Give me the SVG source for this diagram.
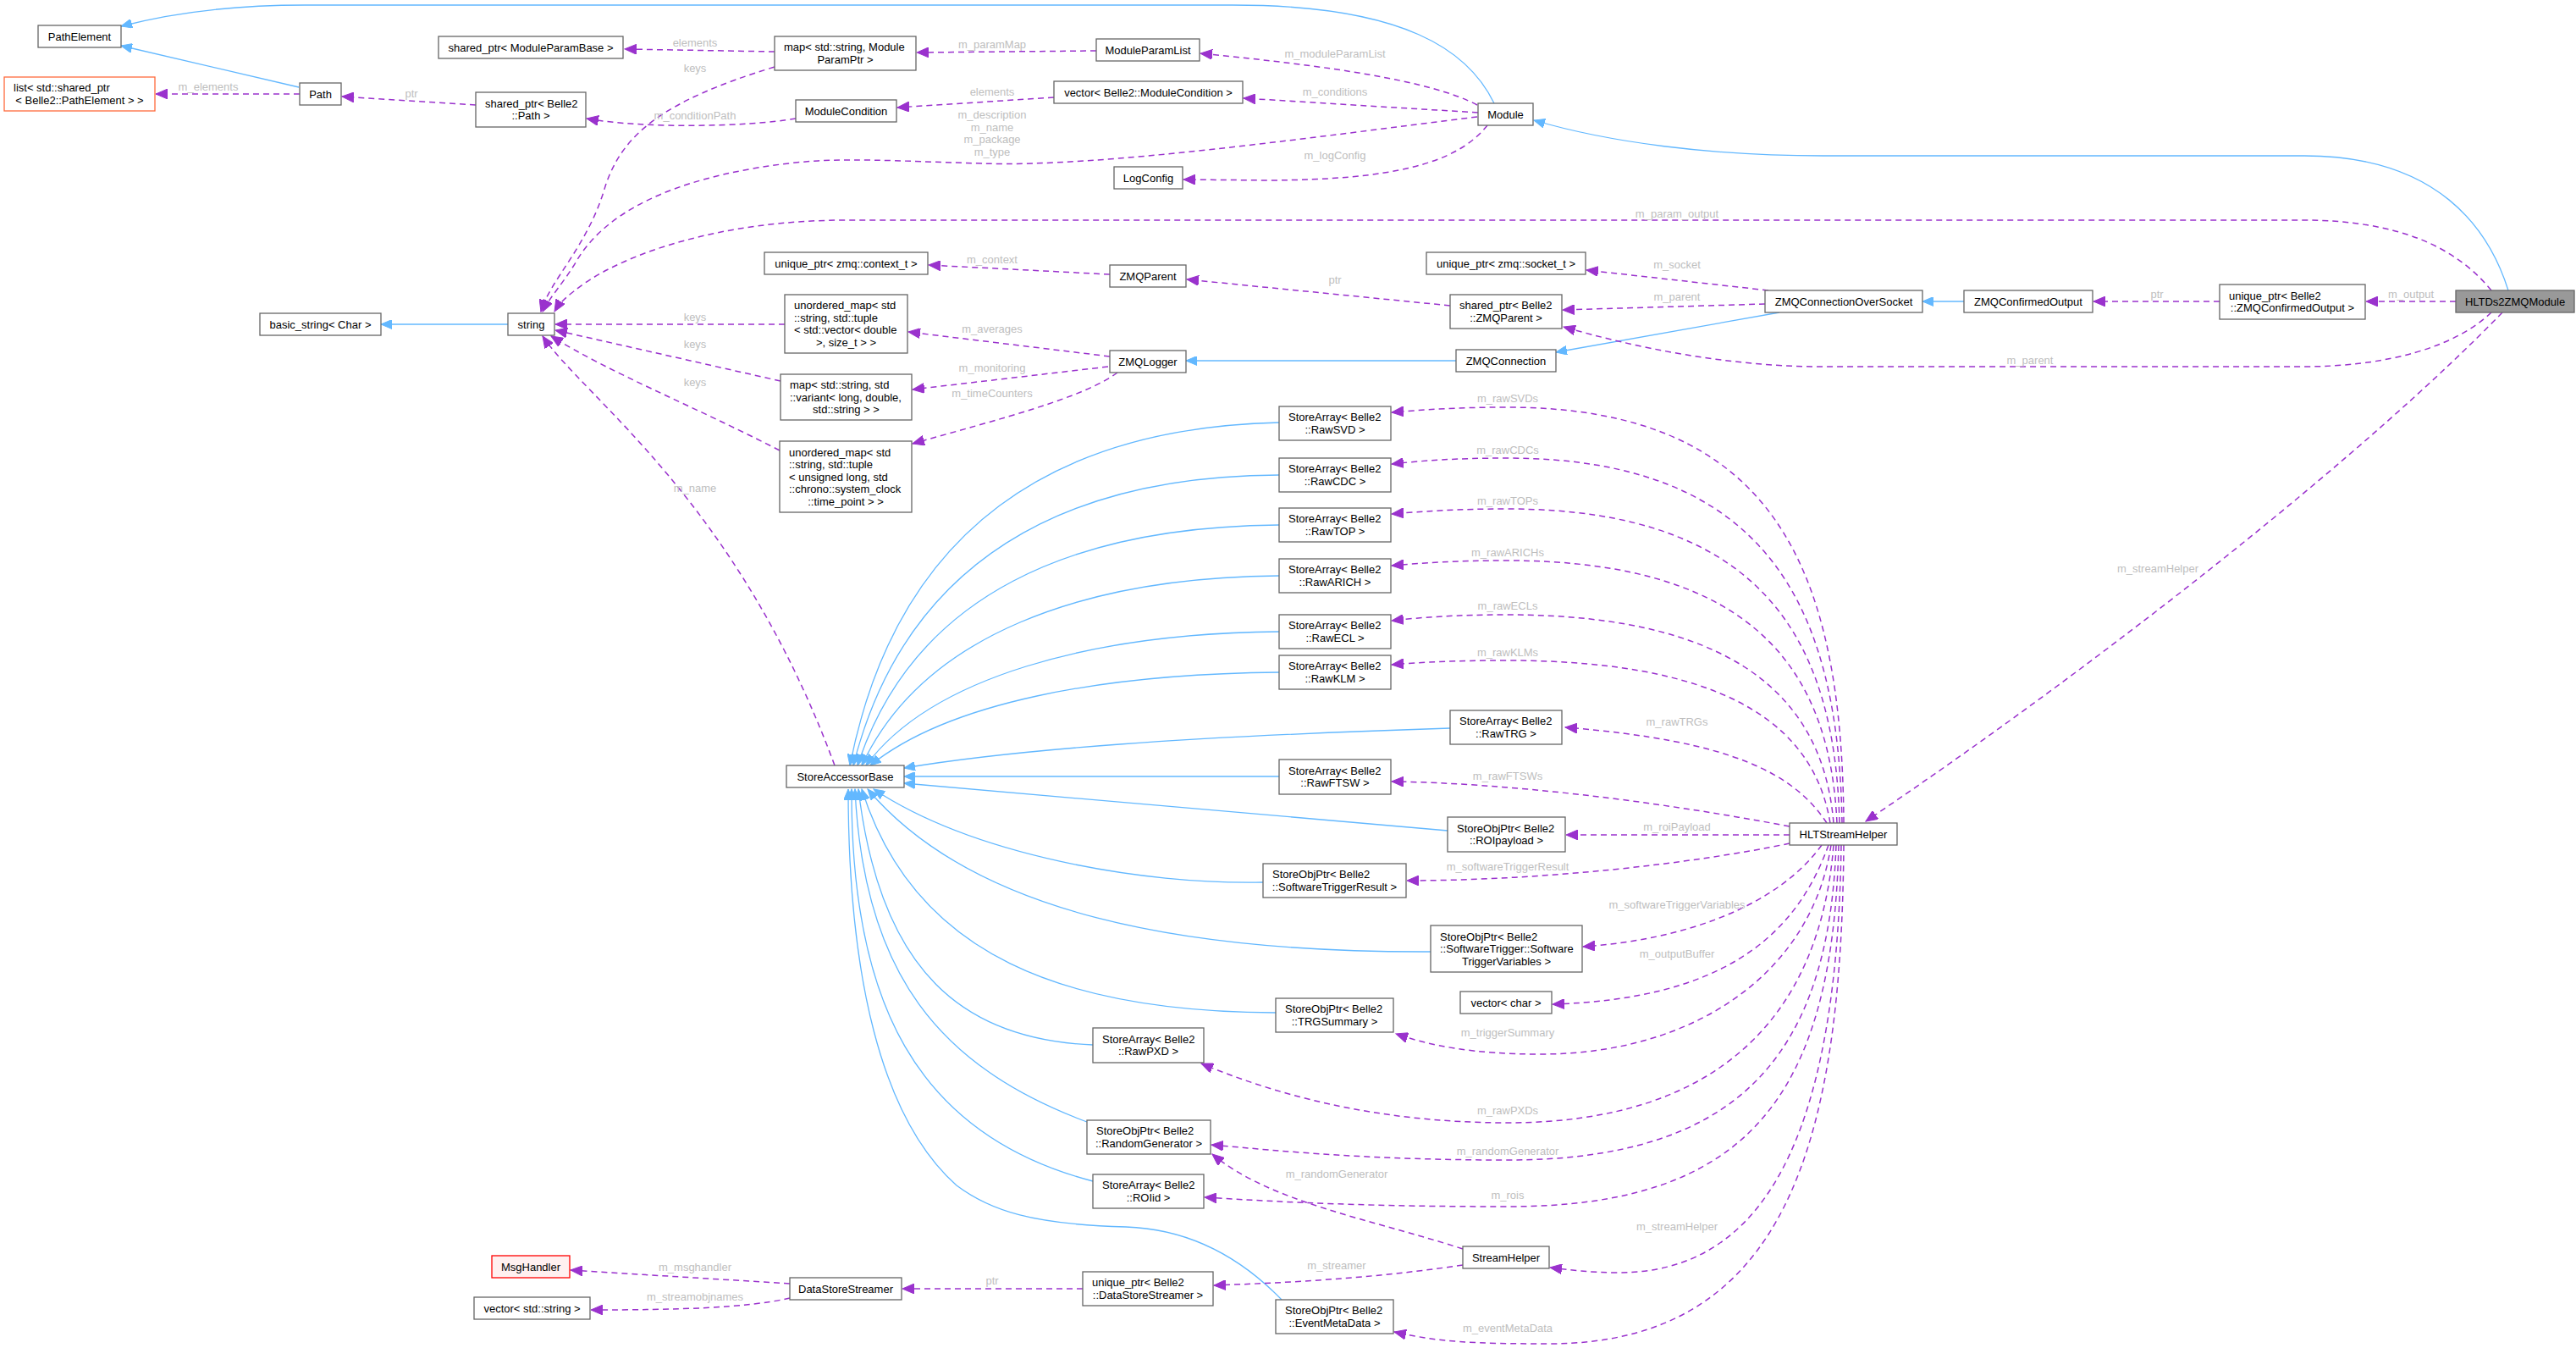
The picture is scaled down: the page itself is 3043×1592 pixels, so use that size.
<svg xmlns="http://www.w3.org/2000/svg" width="3043" height="1592" viewBox="0 0 3043 1592">
<style>
text{font-family:"Liberation Sans",Arial,Helvetica,sans-serif;font-size:13px;fill:#000}
.n rect{fill:#fff;stroke:#666;stroke-width:1.3}
.c{text-anchor:middle}
.lb{fill:#bebebe;text-anchor:middle}
.inh{fill:none;stroke:#63b8ff;stroke-width:1.3;marker-end:url(#ab)}
.use{fill:none;stroke:#9a32cd;stroke-width:1.5;stroke-dasharray:7,5;marker-end:url(#ap)}
</style>
<defs>
<marker id="ab" markerUnits="userSpaceOnUse" markerWidth="14" markerHeight="11" refX="13" refY="5.5" orient="auto"><path d="M0,0 L13,5.5 L0,11 z" fill="#63b8ff" stroke="#63b8ff" stroke-width="1"/></marker>
<marker id="ap" markerUnits="userSpaceOnUse" markerWidth="15" markerHeight="12" refX="14" refY="6" orient="auto"><path d="M0,0 L14,6 L0,12 z" fill="#9a32cd" stroke="#9a32cd" stroke-width="1"/></marker>
</defs>
<rect width="3043" height="1592" fill="#fff"/>
<g id="edges">
<!-- inheritance -->
<path class="inh" d="M353,103 L143,54"/>
<path class="inh" d="M1765,122 C1735,60 1660,6 1456,6 L360,6 C270,6 200,16 143,31"/>
<path class="inh" d="M2963,343 C2940,270 2880,184 2722,184 L2154,184 C2020,184 1900,168 1812,142"/>
<path class="inh" d="M600,383 L450,383"/>
<path class="inh" d="M2102,369 L1838,416"/>
<path class="inh" d="M2320,356 L2271,356"/>
<path class="inh" d="M1720,426 L1401,426"/>
<path class="inh" d="M1511,499 C1250,505 1060,620 1004,904"/>
<path class="inh" d="M1511,561 C1260,562 1070,660 1008,904"/>
<path class="inh" d="M1511,620 C1270,622 1080,700 1013,904"/>
<path class="inh" d="M1511,680 C1280,682 1090,750 1018,904"/>
<path class="inh" d="M1511,746 C1290,748 1100,800 1023,904"/>
<path class="inh" d="M1511,794 C1300,796 1120,830 1028,904"/>
<path class="inh" d="M1713,860 C1400,870 1200,885 1068,907"/>
<path class="inh" d="M1511,917 L1068,917"/>
<path class="inh" d="M1710,981 L1068,925"/>
<path class="inh" d="M1492,1042 C1350,1045 1150,1010 1032,932"/>
<path class="inh" d="M1690,1124 C1400,1125 1150,1080 1025,932"/>
<path class="inh" d="M1507,1196 C1260,1195 1080,1130 1018,932"/>
<path class="inh" d="M1291,1234 C1140,1228 1040,1150 1014,932"/>
<path class="inh" d="M1284,1325 C1110,1260 1020,1150 1010,932"/>
<path class="inh" d="M1291,1395 C1080,1340 1005,1180 1006,932"/>
<path class="inh" d="M1514,1535 C1480,1500 1420,1452 1330,1449 C1220,1446 1170,1430 1130,1400 C1040,1320 1002,1150 1002,932"/>
<!-- usage -->
<path class="use" d="M915,61 L738,58"/>
<text class="lb" x="821" y="55">elements</text>
<path class="use" d="M915,79 C780,120 735,160 715,220 C695,290 650,330 639,368"/>
<text class="lb" x="821" y="85">keys</text>
<path class="use" d="M354,111 L184,111"/>
<text class="lb" x="246" y="107">m_elements</text>
<path class="use" d="M562,124 L404,114"/>
<text class="lb" x="486" y="115">ptr</text>
<path class="use" d="M940,140 C880,150 760,152 693,140"/>
<text class="lb" x="821" y="141">m_conditionPath</text>
<path class="use" d="M1295,60 L1083,62"/>
<text class="lb" x="1172" y="57">m_paramMap</text>
<path class="use" d="M1245,115 L1060,127"/>
<text class="lb" x="1172" y="113">elements</text>
<path class="use" d="M1745,124 C1690,95 1570,78 1418,63"/>
<text class="lb" x="1577" y="68">m_moduleParamList</text>
<path class="use" d="M1746,133 L1469,116"/>
<text class="lb" x="1577" y="113">m_conditions</text>
<path class="use" d="M1745,138 C1550,162 1300,198 1160,193 C1050,190 1000,186 940,192 C820,205 720,240 680,310 C665,335 650,350 641,368"/>
<text class="lb" x="1172" y="140">m_description</text>
<text class="lb" x="1172" y="155">m_name</text>
<text class="lb" x="1172" y="169">m_package</text>
<text class="lb" x="1172" y="184">m_type</text>
<path class="use" d="M1757,148 C1720,195 1640,212 1500,213 L1398,212"/>
<text class="lb" x="1577" y="188">m_logConfig</text>
<path class="use" d="M2943,343 C2900,290 2830,260 2720,260 L1000,260 C850,260 740,300 690,335 C672,348 662,356 655,368"/>
<text class="lb" x="1981" y="257">m_param_output</text>
<path class="use" d="M1311,324 L1097,313"/>
<text class="lb" x="1172" y="311">m_context</text>
<path class="use" d="M1713,361 L1402,330"/>
<text class="lb" x="1577" y="335">ptr</text>
<path class="use" d="M2089,343 L1874,319"/>
<text class="lb" x="1981" y="317">m_socket</text>
<path class="use" d="M2085,359 L1846,366"/>
<text class="lb" x="1981" y="355">m_parent</text>
<path class="use" d="M2943,369 C2900,410 2820,433 2720,433 L2154,433 C2040,433 1930,410 1847,386"/>
<text class="lb" x="2398" y="430">m_parent</text>
<path class="use" d="M2622,356 L2473,356"/>
<text class="lb" x="2548" y="352">ptr</text>
<path class="use" d="M2901,356 L2795,356"/>
<text class="lb" x="2848" y="352">m_output</text>
<path class="use" d="M927,383 L656,383"/>
<text class="lb" x="821" y="379">keys</text>
<path class="use" d="M922,450 L656,390"/>
<text class="lb" x="821" y="411">keys</text>
<path class="use" d="M921,532 C820,480 720,440 651,397"/>
<text class="lb" x="821" y="456">keys</text>
<path class="use" d="M986,904 C870,590 690,470 641,397"/>
<text class="lb" x="821" y="581">m_name</text>
<path class="use" d="M1311,421 L1073,392"/>
<text class="lb" x="1172" y="393">m_averages</text>
<path class="use" d="M1309,433 L1078,460"/>
<text class="lb" x="1172" y="439">m_monitoring</text>
<path class="use" d="M1320,440 C1280,470 1180,495 1078,524"/>
<text class="lb" x="1172" y="469">m_timeCounters</text>
<!-- HLTStreamHelper members -->
<path class="use" d="M2956,369 C2800,530 2500,770 2204,970"/>
<text class="lb" x="2549" y="676">m_streamHelper</text>
<path class="use" d="M2178,972 C2176,670 2095,481 1780,481 C1720,481 1680,484 1644,487"/>
<text class="lb" x="1781" y="475">m_rawSVDs</text>
<path class="use" d="M2176,972 C2172,720 2090,541 1780,541 C1720,541 1680,544 1644,548"/>
<text class="lb" x="1781" y="536">m_rawCDCs</text>
<path class="use" d="M2173,972 C2168,760 2085,601 1780,601 C1720,601 1680,604 1644,607"/>
<text class="lb" x="1781" y="596">m_rawTOPs</text>
<path class="use" d="M2170,972 C2162,800 2080,662 1780,662 C1720,662 1680,665 1644,668"/>
<text class="lb" x="1781" y="657">m_rawARICHs</text>
<path class="use" d="M2166,972 C2155,840 2070,726 1780,726 C1720,726 1680,729 1644,733"/>
<text class="lb" x="1781" y="720">m_rawECLs</text>
<path class="use" d="M2162,972 C2145,870 2060,780 1780,780 C1720,780 1680,782 1644,785"/>
<text class="lb" x="1781" y="775">m_rawKLMs</text>
<path class="use" d="M2158,972 C2120,915 2050,875 1849,859"/>
<text class="lb" x="1981" y="857">m_rawTRGs</text>
<path class="use" d="M2114,976 C1950,945 1780,925 1644,923"/>
<text class="lb" x="1781" y="921">m_rawFTSWs</text>
<path class="use" d="M2114,986 L1850,986"/>
<text class="lb" x="1981" y="981">m_roiPayload</text>
<path class="use" d="M2114,996 C2000,1020 1820,1040 1662,1040"/>
<text class="lb" x="1781" y="1028">m_softwareTriggerResult</text>
<path class="use" d="M2152,998 C2100,1070 1990,1110 1870,1118"/>
<text class="lb" x="1981" y="1073">m_softwareTriggerVariables</text>
<path class="use" d="M2160,998 C2120,1110 2030,1180 1834,1186"/>
<text class="lb" x="1981" y="1131">m_outputBuffer</text>
<path class="use" d="M2163,998 C2140,1150 2000,1245 1820,1245 C1740,1245 1690,1235 1649,1221"/>
<text class="lb" x="1781" y="1224">m_triggerSummary</text>
<path class="use" d="M2166,998 C2150,1200 2030,1326 1781,1326 C1620,1326 1500,1290 1419,1256"/>
<text class="lb" x="1781" y="1316">m_rawPXDs</text>
<path class="use" d="M2169,998 C2160,1250 2050,1370 1781,1370 C1620,1370 1520,1360 1431,1352"/>
<text class="lb" x="1781" y="1364">m_randomGenerator</text>
<path class="use" d="M2172,998 C2165,1300 2060,1425 1781,1425 C1620,1425 1520,1420 1423,1414"/>
<text class="lb" x="1781" y="1416">m_rois</text>
<path class="use" d="M2175,998 C2170,1350 2080,1503 1912,1503 C1880,1503 1855,1500 1831,1497"/>
<text class="lb" x="1981" y="1453">m_streamHelper</text>
<path class="use" d="M2178,998 C2175,1350 2110,1587 1830,1587 C1740,1587 1700,1585 1647,1573"/>
<text class="lb" x="1781" y="1573">m_eventMetaData</text>
<!-- StreamHelper / DataStoreStreamer -->
<path class="use" d="M1728,1475 C1620,1440 1500,1420 1432,1363"/>
<text class="lb" x="1579" y="1391">m_randomGenerator</text>
<path class="use" d="M1728,1494 C1620,1510 1520,1515 1434,1518"/>
<text class="lb" x="1579" y="1499">m_streamer</text>
<path class="use" d="M1279,1522 L1066,1522"/>
<text class="lb" x="1172" y="1517">ptr</text>
<path class="use" d="M933,1516 L674,1500"/>
<text class="lb" x="821" y="1501">m_msghandler</text>
<path class="use" d="M933,1533 C880,1545 800,1547 698,1547"/>
<text class="lb" x="821" y="1536">m_streamobjnames</text>
</g>
<g id="node-PathElement" class="n"><rect x="45" y="30" width="98" height="26"/><text class="c" x="94" y="47.5">PathElement</text></g>
<g id="node-list" class="n"><rect x="5" y="91" width="178" height="40" style="stroke:#ff6a3d"/><text x="16" y="108.3">list&lt; std::shared_ptr</text><text class="c" x="94" y="122.8">&lt; Belle2::PathElement &gt; &gt;</text></g>
<g id="node-Path" class="n"><rect x="354" y="98" width="49" height="26"/><text class="c" x="378.5" y="115.5">Path</text></g>
<g id="node-sp-ModuleParamBase" class="n"><rect x="518" y="43" width="218" height="26"/><text class="c" x="627" y="60.5">shared_ptr&lt; ModuleParamBase &gt;</text></g>
<g id="node-map-ParamPtr" class="n"><rect x="915" y="43" width="167" height="40"/><text x="926" y="60.3">map&lt; std::string, Module</text><text class="c" x="998.5" y="74.8">ParamPtr &gt;</text></g>
<g id="node-sp-Path" class="n"><rect x="562" y="109" width="130" height="41"/><text x="573" y="126.8">shared_ptr&lt; Belle2</text><text class="c" x="627" y="141.3">::Path &gt;</text></g>
<g id="node-ModuleCondition" class="n"><rect x="940" y="118" width="119" height="26"/><text class="c" x="999.5" y="135.5">ModuleCondition</text></g>
<g id="node-ModuleParamList" class="n"><rect x="1295" y="46" width="122" height="26"/><text class="c" x="1356" y="63.5">ModuleParamList</text></g>
<g id="node-vec-ModuleCondition" class="n"><rect x="1245" y="96" width="223" height="26"/><text class="c" x="1356.5" y="113.5">vector&lt; Belle2::ModuleCondition &gt;</text></g>
<g id="node-Module" class="n"><rect x="1746" y="122" width="65" height="26"/><text class="c" x="1778.5" y="139.5">Module</text></g>
<g id="node-LogConfig" class="n"><rect x="1316" y="197" width="81" height="26"/><text class="c" x="1356.5" y="214.5">LogConfig</text></g>
<g id="node-string" class="n"><rect x="600" y="370" width="55" height="26"/><text class="c" x="627.5" y="387.5">string</text></g>
<g id="node-basic_string" class="n"><rect x="307" y="370" width="143" height="26"/><text class="c" x="378.5" y="387.5">basic_string&lt; Char &gt;</text></g>
<g id="node-up-context" class="n"><rect x="903" y="298" width="193" height="26"/><text class="c" x="999.5" y="315.5">unique_ptr&lt; zmq::context_t &gt;</text></g>
<g id="node-umap-vector" class="n"><rect x="927" y="348" width="145" height="69"/><text x="938" y="365.3">unordered_map&lt; std</text><text x="938" y="379.8">::string, std::tuple</text><text x="938" y="394.3">&lt; std::vector&lt; double</text><text class="c" x="999.5" y="408.8">&gt;, size_t &gt; &gt;</text></g>
<g id="node-map-variant" class="n"><rect x="922" y="442" width="155" height="54"/><text x="933" y="459">map&lt; std::string, std</text><text x="933" y="473.5">::variant&lt; long, double,</text><text class="c" x="999.5" y="488">std::string &gt; &gt;</text></g>
<g id="node-umap-time" class="n"><rect x="921" y="521" width="156" height="84"/><text x="932" y="538.5">unordered_map&lt; std</text><text x="932" y="553">::string, std::tuple</text><text x="932" y="567.5">&lt; unsigned long, std</text><text x="932" y="582">::chrono::system_clock</text><text class="c" x="999" y="596.5">::time_point &gt; &gt;</text></g>
<g id="node-StoreAccessorBase" class="n"><rect x="929" y="904" width="139" height="26"/><text class="c" x="998.5" y="921.5">StoreAccessorBase</text></g>
<g id="node-ZMQParent" class="n"><rect x="1311" y="313" width="90" height="26"/><text class="c" x="1356" y="330.5">ZMQParent</text></g>
<g id="node-up-socket" class="n"><rect x="1685" y="298" width="188" height="26"/><text class="c" x="1779" y="315.5">unique_ptr&lt; zmq::socket_t &gt;</text></g>
<g id="node-sp-ZMQParent" class="n"><rect x="1713" y="348" width="132" height="40"/><text x="1724" y="365.3">shared_ptr&lt; Belle2</text><text class="c" x="1779" y="379.8">::ZMQParent &gt;</text></g>
<g id="node-ZMQLogger" class="n"><rect x="1311" y="414" width="90" height="26"/><text class="c" x="1356" y="431.5">ZMQLogger</text></g>
<g id="node-ZMQConnection" class="n"><rect x="1720" y="413" width="118" height="26"/><text class="c" x="1779" y="430.5">ZMQConnection</text></g>
<g id="node-ZMQConnectionOverSocket" class="n"><rect x="2085" y="343" width="186" height="26"/><text class="c" x="2178" y="360.5">ZMQConnectionOverSocket</text></g>
<g id="node-ZMQConfirmedOutput" class="n"><rect x="2320" y="343" width="152" height="26"/><text class="c" x="2396" y="360.5">ZMQConfirmedOutput</text></g>
<g id="node-up-ZMQConfirmedOutput" class="n"><rect x="2622" y="336" width="172" height="41"/><text x="2633" y="353.8">unique_ptr&lt; Belle2</text><text class="c" x="2708" y="368.3">::ZMQConfirmedOutput &gt;</text></g>
<g id="node-HLTDs2ZMQModule" class="n"><rect x="2901" y="343" width="140" height="26" style="fill:#999"/><text class="c" x="2971" y="360.5">HLTDs2ZMQModule</text></g>
<g id="node-RawSVD" class="n"><rect x="1511" y="480" width="132" height="40"/><text x="1522" y="497.3">StoreArray&lt; Belle2</text><text class="c" x="1577" y="511.8">::RawSVD &gt;</text></g>
<g id="node-RawCDC" class="n"><rect x="1511" y="541" width="132" height="40"/><text x="1522" y="558.3">StoreArray&lt; Belle2</text><text class="c" x="1577" y="572.8">::RawCDC &gt;</text></g>
<g id="node-RawTOP" class="n"><rect x="1511" y="600" width="132" height="40"/><text x="1522" y="617.3">StoreArray&lt; Belle2</text><text class="c" x="1577" y="631.8">::RawTOP &gt;</text></g>
<g id="node-RawARICH" class="n"><rect x="1511" y="660" width="132" height="40"/><text x="1522" y="677.3">StoreArray&lt; Belle2</text><text class="c" x="1577" y="691.8">::RawARICH &gt;</text></g>
<g id="node-RawECL" class="n"><rect x="1511" y="726" width="132" height="40"/><text x="1522" y="743.3">StoreArray&lt; Belle2</text><text class="c" x="1577" y="757.8">::RawECL &gt;</text></g>
<g id="node-RawKLM" class="n"><rect x="1511" y="774" width="132" height="40"/><text x="1522" y="791.3">StoreArray&lt; Belle2</text><text class="c" x="1577" y="805.8">::RawKLM &gt;</text></g>
<g id="node-RawTRG" class="n"><rect x="1713" y="839" width="132" height="40"/><text x="1724" y="856.3">StoreArray&lt; Belle2</text><text class="c" x="1779" y="870.8">::RawTRG &gt;</text></g>
<g id="node-RawFTSW" class="n"><rect x="1511" y="897" width="132" height="41"/><text x="1522" y="914.8">StoreArray&lt; Belle2</text><text class="c" x="1577" y="929.3">::RawFTSW &gt;</text></g>
<g id="node-ROIpayload" class="n"><rect x="1710" y="965" width="139" height="41"/><text x="1721" y="982.8">StoreObjPtr&lt; Belle2</text><text class="c" x="1779.5" y="997.3">::ROIpayload &gt;</text></g>
<g id="node-SoftwareTriggerResult" class="n"><rect x="1492" y="1020" width="169" height="40"/><text x="1503" y="1037.3">StoreObjPtr&lt; Belle2</text><text class="c" x="1576.5" y="1051.8">::SoftwareTriggerResult &gt;</text></g>
<g id="node-SoftwareTriggerVariables" class="n"><rect x="1690" y="1093" width="179" height="55"/><text x="1701" y="1110.5">StoreObjPtr&lt; Belle2</text><text x="1701" y="1125">::SoftwareTrigger::Software</text><text class="c" x="1779.5" y="1139.5">TriggerVariables &gt;</text></g>
<g id="node-vec-char" class="n"><rect x="1725" y="1171" width="108" height="26"/><text class="c" x="1779" y="1188.5">vector&lt; char &gt;</text></g>
<g id="node-TRGSummary" class="n"><rect x="1507" y="1179" width="139" height="40"/><text x="1518" y="1196.3">StoreObjPtr&lt; Belle2</text><text class="c" x="1576.5" y="1210.8">::TRGSummary &gt;</text></g>
<g id="node-RawPXD" class="n"><rect x="1291" y="1214" width="131" height="41"/><text x="1302" y="1231.8">StoreArray&lt; Belle2</text><text class="c" x="1356.5" y="1246.3">::RawPXD &gt;</text></g>
<g id="node-RandomGenerator" class="n"><rect x="1284" y="1323" width="146" height="40"/><text x="1295" y="1340.3">StoreObjPtr&lt; Belle2</text><text class="c" x="1357" y="1354.8">::RandomGenerator &gt;</text></g>
<g id="node-ROIid" class="n"><rect x="1291" y="1387" width="131" height="40"/><text x="1302" y="1404.3">StoreArray&lt; Belle2</text><text class="c" x="1356.5" y="1418.8">::ROIid &gt;</text></g>
<g id="node-StreamHelper" class="n"><rect x="1728" y="1472" width="102" height="26"/><text class="c" x="1779" y="1489.5">StreamHelper</text></g>
<g id="node-up-DataStoreStreamer" class="n"><rect x="1279" y="1502" width="154" height="40"/><text x="1290" y="1519.3">unique_ptr&lt; Belle2</text><text class="c" x="1356" y="1533.8">::DataStoreStreamer &gt;</text></g>
<g id="node-EventMetaData" class="n"><rect x="1507" y="1535" width="139" height="40"/><text x="1518" y="1552.3">StoreObjPtr&lt; Belle2</text><text class="c" x="1576.5" y="1566.8">::EventMetaData &gt;</text></g>
<g id="node-DataStoreStreamer" class="n"><rect x="933" y="1509" width="132" height="26"/><text class="c" x="999" y="1526.5">DataStoreStreamer</text></g>
<g id="node-MsgHandler" class="n"><rect x="581" y="1483" width="92" height="26" style="fill:#fff0f0;stroke:#ff0000"/><text class="c" x="627" y="1500.5">MsgHandler</text></g>
<g id="node-vec-string" class="n"><rect x="560" y="1532" width="137" height="26"/><text class="c" x="628.5" y="1549.5">vector&lt; std::string &gt;</text></g>
<g id="node-HLTStreamHelper" class="n"><rect x="2114" y="972" width="127" height="26"/><text class="c" x="2177.5" y="989.5">HLTStreamHelper</text></g>
</svg>
